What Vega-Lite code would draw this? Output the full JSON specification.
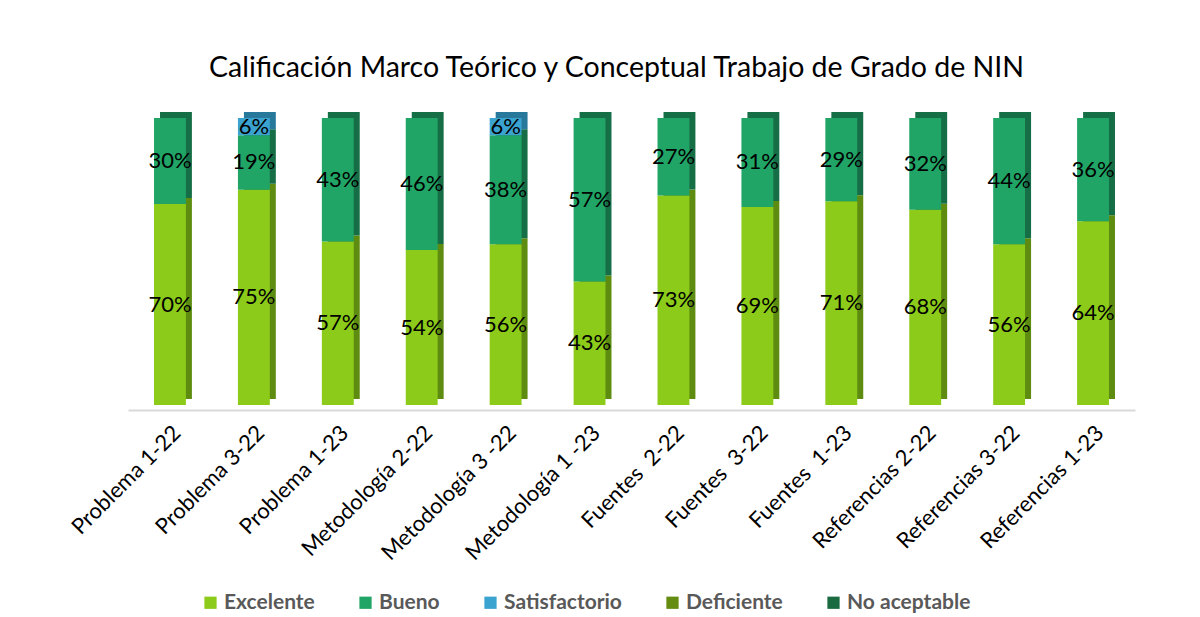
{
  "$schema": "https://vega.github.io/schema/vega-lite/v6.json",
  "autosize": {"type": "none"},
  "width": 1007,
  "height": 287,
  "padding": {"left": 128, "top": 118, "right": 65, "bottom": 212},
  "background": "white",
  "config": {
    "font": "Lato",
    "view": {"stroke": null}
  },
  "title": {
    "text": "Calificación Marco Teórico y Conceptual Trabajo de Grado de NIN",
    "fontSize": 28.5,
    "fontWeight": "normal",
    "color": "#000000",
    "font": "Lato",
    "offset": 30,
    "dx": -15,
    "anchor": "middle"
  },
  "data": {
    "values": [
      {"cat": "Problema 1-22", "nivel": "Excelente", "v": 70},
      {"cat": "Problema 1-22", "nivel": "Bueno", "v": 30},
      {"cat": "Problema 3-22", "nivel": "Excelente", "v": 75},
      {"cat": "Problema 3-22", "nivel": "Bueno", "v": 19},
      {"cat": "Problema 3-22", "nivel": "Satisfactorio", "v": 6},
      {"cat": "Problema 1-23", "nivel": "Excelente", "v": 57},
      {"cat": "Problema 1-23", "nivel": "Bueno", "v": 43},
      {"cat": "Metodología 2-22", "nivel": "Excelente", "v": 54},
      {"cat": "Metodología 2-22", "nivel": "Bueno", "v": 46},
      {"cat": "Metodología 3 -22", "nivel": "Excelente", "v": 56},
      {"cat": "Metodología 3 -22", "nivel": "Bueno", "v": 38},
      {"cat": "Metodología 3 -22", "nivel": "Satisfactorio", "v": 6},
      {"cat": "Metodología 1 -23", "nivel": "Excelente", "v": 43},
      {"cat": "Metodología 1 -23", "nivel": "Bueno", "v": 57},
      {"cat": "Fuentes \u00a02-22", "nivel": "Excelente", "v": 73},
      {"cat": "Fuentes \u00a02-22", "nivel": "Bueno", "v": 27},
      {"cat": "Fuentes \u00a03-22", "nivel": "Excelente", "v": 69},
      {"cat": "Fuentes \u00a03-22", "nivel": "Bueno", "v": 31},
      {"cat": "Fuentes \u00a01-23", "nivel": "Excelente", "v": 71},
      {"cat": "Fuentes \u00a01-23", "nivel": "Bueno", "v": 29},
      {"cat": "Referencias 2-22", "nivel": "Excelente", "v": 68},
      {"cat": "Referencias 2-22", "nivel": "Bueno", "v": 32},
      {"cat": "Referencias 3-22", "nivel": "Excelente", "v": 56},
      {"cat": "Referencias 3-22", "nivel": "Bueno", "v": 44},
      {"cat": "Referencias 1-23", "nivel": "Excelente", "v": 64},
      {"cat": "Referencias 1-23", "nivel": "Bueno", "v": 36}
    ]
  },
  "transform": [
    {"calculate": "indexof(['Excelente','Bueno','Satisfactorio','Deficiente','No aceptable'], datum.nivel)", "as": "ord"},
    {"stack": "v", "groupby": ["cat"], "sort": [{"field": "ord", "order": "ascending"}], "as": ["v0", "v1"]},
    {"calculate": "(datum.v0 + datum.v1) / 2", "as": "mid"},
    {"calculate": "datum.v + '%'", "as": "lbl"}
  ],
  "encoding": {
    "x": {
      "field": "cat",
      "type": "nominal",
      "sort": null,
      "scale": {"paddingInner": 0.62, "paddingOuter": 0.31},
      "axis": {
        "title": null,
        "labelAngle": -45,
        "labelFontSize": 22,
        "labelLimit": 400,
        "labelColor": "#000000",
        "labelFont": "Lato",
        "ticks": false,
        "labelPadding": 12,
        "domainColor": "#d9d9d9",
        "domainWidth": 2,
        "offset": 5
      }
    }
  },
  "resolve": {"scale": {"color": "independent"}},
  "layer": [
    {
      "mark": {"type": "bar", "xOffset": 6, "yOffset": -6, "y2Offset": -6},
      "encoding": {
        "y": {"field": "v0", "type": "quantitative", "scale": {"domain": [0, 100]}, "axis": null},
        "y2": {"field": "v1"},
        "color": {
          "field": "nivel",
          "type": "nominal",
          "scale": {
            "domain": ["Excelente", "Bueno", "Satisfactorio"],
            "range": ["#5e8c10", "#166e46", "#27789a"]
          },
          "legend": null
        }
      }
    },
    {
      "mark": {"type": "bar"},
      "encoding": {
        "y": {"field": "v0", "type": "quantitative", "scale": {"domain": [0, 100]}, "axis": null},
        "y2": {"field": "v1"},
        "color": {
          "field": "nivel",
          "type": "nominal",
          "scale": {
            "domain": ["Excelente", "Bueno", "Satisfactorio", "Deficiente", "No aceptable"],
            "range": ["#8ccb19", "#21a566", "#3ba3cf", "#638c10", "#1a6b40"]
          },
          "legend": {
            "title": null,
            "orient": "none",
            "legendX": 72,
            "legendY": 474,
            "direction": "horizontal",
            "symbolType": "square",
            "symbolSize": 150,
            "symbolStrokeWidth": 0,
            "labelFontSize": 21,
            "labelFontWeight": "bold",
            "labelColor": "#595959",
            "labelFont": "Lato",
            "labelOffset": 3,
            "columnPadding": 40
          }
        }
      }
    },
    {
      "mark": {"type": "text", "fontSize": 22, "color": "#000000", "font": "Lato"},
      "encoding": {
        "y": {"field": "mid", "type": "quantitative"},
        "text": {"field": "lbl"}
      }
    }
  ]
}
